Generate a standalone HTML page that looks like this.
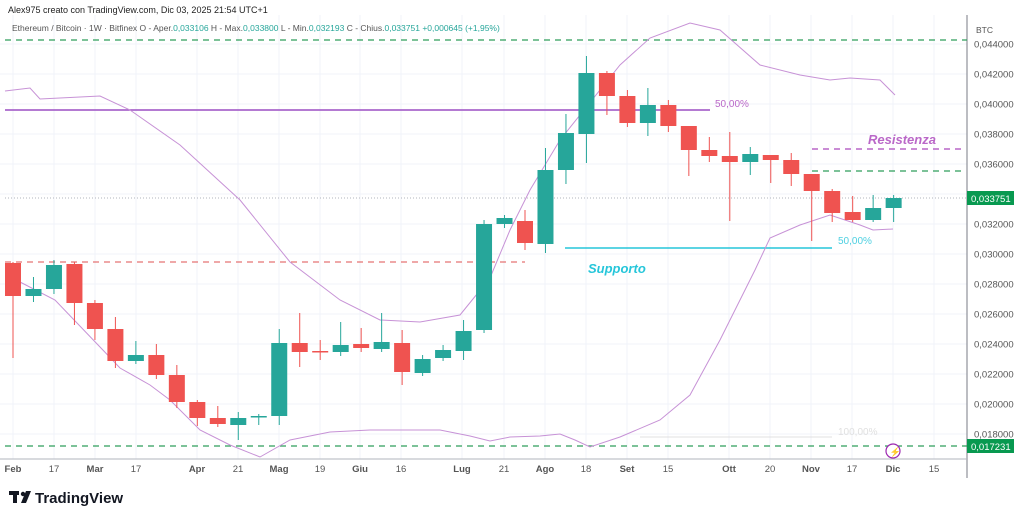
<!DOCTYPE html>
<html><head><meta charset="utf-8"><style>
html,body{margin:0;padding:0;background:#fff;width:1024px;height:518px;overflow:hidden}
svg{display:block;font-family:"Liberation Sans",sans-serif}
</style></head><body>
<svg id="s" width="1024" height="518" xmlns="http://www.w3.org/2000/svg">
<g id="grid" stroke="#f0f3fa" stroke-width="1"></g>
<line x1="967" y1="15" x2="967" y2="478" stroke="#787b86" stroke-width="1"/>
<line x1="0" y1="459" x2="967" y2="459" stroke="#b2b5be" stroke-width="1"/>
<line x1="5" y1="40" x2="967" y2="40" stroke="#2e9e5a" stroke-width="1.2" stroke-dasharray="6,5"/>
<line x1="5" y1="446" x2="967" y2="446" stroke="#2e9e5a" stroke-width="1.2" stroke-dasharray="6,5"/>
<line x1="5" y1="262" x2="525" y2="262" stroke="#e57373" stroke-width="1.2" stroke-dasharray="6,5"/>
<line x1="5" y1="110" x2="710" y2="110" stroke="#9c4fc4" stroke-width="1.5"/>
<text x="715" y="107" font-size="10" fill="#ba68c8">50,00%</text>
<line x1="565" y1="248" x2="832" y2="248" stroke="#26c6da" stroke-width="1.5"/>
<text x="838" y="244" font-size="10" fill="#4dd0e1">50,00%</text>
<line x1="640" y1="437" x2="832" y2="437" stroke="#e0e0e0" stroke-width="1"/>
<text x="838" y="435" font-size="10" fill="#e0e0e0">100,00%</text>
<line x1="812" y1="149" x2="965" y2="149" stroke="#ab47bc" stroke-width="1.2" stroke-dasharray="6,5"/>
<line x1="812" y1="171" x2="965" y2="171" stroke="#2e9e5a" stroke-width="1.2" stroke-dasharray="6,5"/>
<line x1="5" y1="198" x2="967" y2="198" stroke="#b2b5be" stroke-width="1" stroke-dasharray="1,2"/>
<text x="868" y="144" font-size="13" font-style="italic" font-weight="bold" fill="#ba68c8">Resistenza</text>
<text x="588" y="273" font-size="13" font-style="italic" font-weight="bold" fill="#26c6da">Supporto</text>
<polyline fill="none" stroke="#c792d6" stroke-width="1" points="5,91 30,88 40,99 100,96 130,110 180,145 240,200 290,262 340,300 380,320 420,322 460,315 490,278 510,230 530,190 560,140 620,65 650,38 690,23 720,30 760,65 800,75 830,80 850,78 880,80 895,95"/>
<polyline fill="none" stroke="#c792d6" stroke-width="1" points="20,282 55,300 100,347 120,368 150,385 170,400 200,430 230,445 260,457 290,440 330,432 370,430 440,430 470,436 490,441 510,437 540,436 560,434 575,440 590,447 620,437 660,420 690,395 720,340 740,300 755,270 770,238 800,225 830,215 860,225 873,230 893,229"/>
<g id="c"></g>
<g id="ax" font-size="9.5" fill="#555"></g>
<text x="8" y="13" font-size="9" fill="#222">Alex975 creato con TradingView.com, Dic 03, 2025 21:54 UTC+1</text>
<text x="12" y="31" font-size="8.5" fill="#555">Ethereum / Bitcoin · 1W · Bitfinex  O - Aper.<tspan fill="#26a69a">0,033106</tspan>  H - Max.<tspan fill="#26a69a">0,033800</tspan>  L - Min.<tspan fill="#26a69a">0,032193</tspan>  C - Chius.<tspan fill="#26a69a">0,033751</tspan>  <tspan fill="#26a69a">+0,000645 (+1,95%)</tspan></text>
<text x="976" y="33" font-size="8.5" fill="#555">BTC</text>
<rect x="967" y="191" width="47" height="14" fill="#089950"/>
<text x="971" y="202" font-size="9.5" fill="#fff">0,033751</text>
<rect x="967" y="439" width="47" height="14" fill="#089950"/>
<text x="971" y="450" font-size="9.5" fill="#fff">0,017231</text>
<circle cx="893" cy="451" r="7" fill="#fff" stroke="#9c27b0" stroke-width="1.2"/>
<text x="889.5" y="455" font-size="9" fill="#9c27b0">⚡</text>
<g fill="#131722"><rect x="9" y="491" width="10" height="4"/><rect x="13" y="491" width="4" height="12"/><circle cx="23" cy="494" r="2.2"/><polygon points="26,491 31,491 26,503 21,503"/></g>
<text x="35" y="503" font-size="15" font-weight="bold" fill="#131722">TradingView</text>
</svg>
<script>
const NS="http://www.w3.org/2000/svg";
function el(p,t,a,txt){const e=document.createElementNS(NS,t);for(const k in a)e.setAttribute(k,a[k]);if(txt)e.textContent=txt;p.appendChild(e);return e;}
const g=document.getElementById('grid'),ax=document.getElementById('ax'),c=document.getElementById('c');
for(let i=0;i<=13;i++){const v=0.044-0.002*i,y=44+i*30;el(g,'line',{x1:0,y1:y,x2:967,y2:y});
 if(i<13)el(ax,'text',{x:974,y:y+3.5},v.toFixed(6).replace('.',','));}
el(ax,'text',{x:974,y:437.5},'0,018000');
const xl=[["Feb",13],["17",54],["Mar",95],["17",136],["Apr",197],["21",238],["Mag",279],["19",320],["Giu",360],["16",401],["Lug",462],["21",504],["Ago",545],["18",586],["Set",627],["15",668],["Ott",729],["20",770],["Nov",811],["17",852],["Dic",893],["15",934]];
xl.forEach(([t,x])=>{el(g,'line',{x1:x,y1:15,x2:x,y2:459});el(ax,'text',{x:x,y:472,'text-anchor':'middle','font-weight':/^\d/.test(t)?'normal':'bold'},t);});
// o,c,h,l in pixels
const d=[[263,296,262,358],[296,289,277,302],[289,265,260,294],[264,303,262,325],[303,329,300,340],[329,361,317,368],[361,355,341,364],[355,375,344,379],[375,402,365,408],[402,418,400,426],[418,424,406,427],[425,418,412,440],[417,416,414,425],[416,343,329,425],[343,352,313,367],[351,352,340,360],[352,345,322,356],[344,348,328,352],[349,342,313,352],[343,372,330,385],[373,359,355,376],[358,350,345,361],[351,331,320,360],[330,224,220,333],[224,218,215,228],[221,243,210,250],[244,170,148,253],[170,133,114,184],[134,73,56,163],[73,96,71,115],[96,123,90,127],[123,105,88,136],[105,126,100,132],[126,150,126,176],[150,156,137,162],[156,162,132,221],[162,154,147,175],[155,160,155,183],[160,174,153,186],[174,191,174,241],[191,213,189,222],[212,220,196,222],[220,208,195,222],[208,198,195,222]];
d.forEach((k,i)=>{const x=13+20.48*i,up=k[1]<k[0],col=up?'#26a69a':'#ef5350';
 el(c,'line',{x1:x,y1:k[2],x2:x,y2:k[3],stroke:col,'stroke-width':1});
 const t=Math.min(k[0],k[1]),h=Math.max(1.5,Math.abs(k[0]-k[1]));
 el(c,'rect',{x:x-8,y:t,width:16,height:h,fill:col});});
</script>
</body></html>
